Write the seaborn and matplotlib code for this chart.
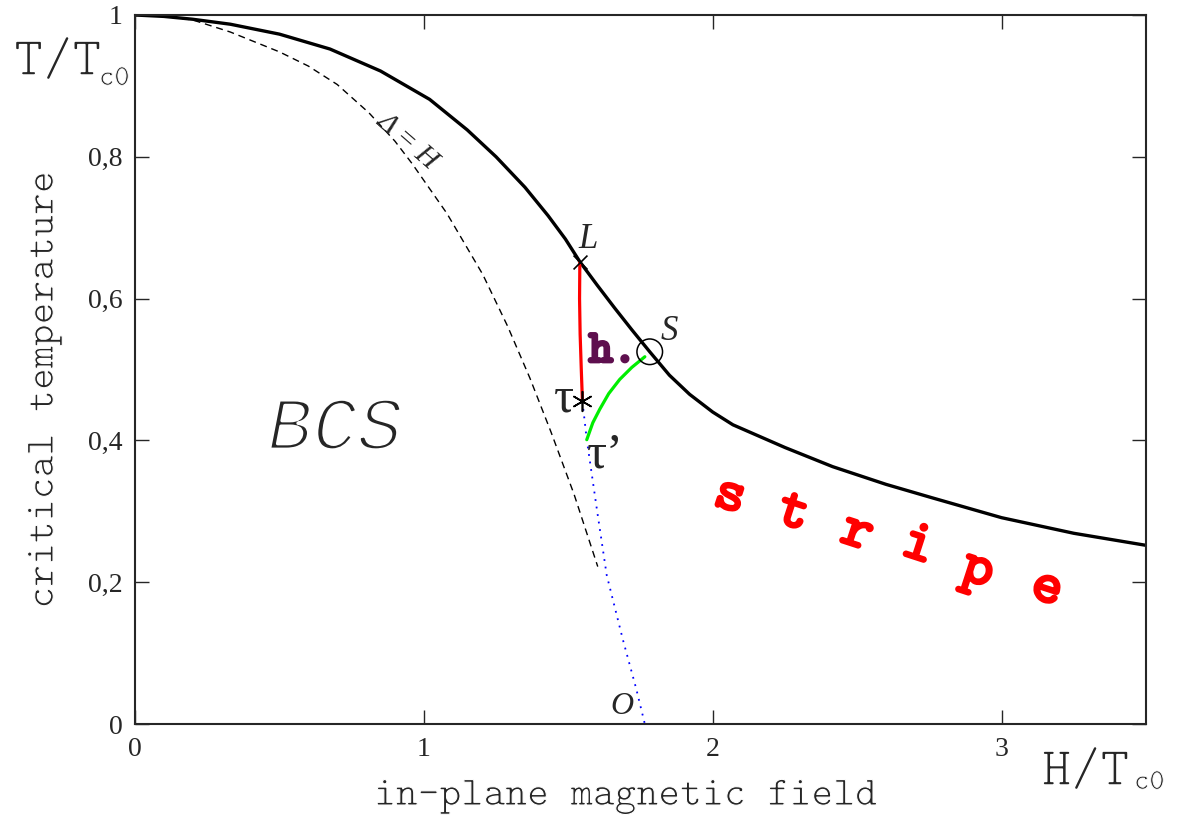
import matplotlib
matplotlib.use("Agg")
import matplotlib.pyplot as plt
import matplotlib.patheffects as pe
import seaborn as sns

# --- data -------------------------------------------------------------
# critical temperature line T_c(H)
crit_H = [0.0, 0.1, 0.2, 0.33, 0.5, 0.675, 0.85, 1.02, 1.15, 1.25, 1.35, 1.43, 1.49,
          1.54, 1.60, 1.66, 1.72, 1.782, 1.85, 1.92, 2.0, 2.07, 2.25, 2.415, 2.6,
          2.76, 3.0, 3.25, 3.5]
crit_T = [1.0, 0.998, 0.994, 0.987, 0.973, 0.952, 0.921, 0.881, 0.838, 0.80, 0.757, 0.717,
          0.684, 0.652, 0.619, 0.587, 0.556, 0.525, 0.492, 0.465, 0.44, 0.422, 0.39, 0.363,
          0.338, 0.319, 0.291, 0.269, 0.252]

# Delta = H line (dashed)
gap_H = [0.0, 0.087, 0.2, 0.33, 0.5, 0.6, 0.7, 0.81, 0.9, 0.96, 1.08, 1.204, 1.29,
         1.367, 1.44, 1.52, 1.602]
gap_T = [1.0, 0.999, 0.993, 0.976, 0.948, 0.928, 0.902, 0.862, 0.822, 0.79, 0.72, 0.634,
         0.561, 0.488, 0.412, 0.324, 0.222]

# first-order line L -> tau (red)
red_H = [1.540, 1.539, 1.541, 1.545, 1.549]
red_T = [0.651, 0.60, 0.55, 0.50, 0.455]

# tau' -> S line (green)
green_H = [1.564, 1.585, 1.609, 1.640, 1.678, 1.720, 1.765]
green_T = [0.401, 0.425, 0.444, 0.466, 0.486, 0.503, 0.518]

# tau -> O line (blue dotted)
blue_H = [1.549, 1.564, 1.60, 1.633, 1.689, 1.735, 1.765]
blue_T = [0.455, 0.401, 0.30, 0.21, 0.119, 0.05, 0.0]

# special points
pt_L = (1.540, 0.651)
pt_S = (1.782, 0.525)
pt_tau = (1.549, 0.455)

x_ticks = [0, 1, 2, 3]
x_ticklabels = ["0", "1", "2", "3"]
y_ticks = [0, 0.2, 0.4, 0.6, 0.8, 1.0]
y_ticklabels = ["0", "0,2", "0,4", "0,6", "0,8", "1"]

stripe_letters = ["s", "t", "r", "i", "p", "e"]
stripe_H = [2.059, 2.277, 2.498, 2.709, 2.917, 3.156]
stripe_T = [0.319, 0.295, 0.267, 0.249, 0.215, 0.189]

# --- style ------------------------------------------------------------
sns.set_theme(style="ticks")
MONO = ["cmtt10", "DejaVu Sans Mono"]
MONO_IT = ["Liberation Mono", "DejaVu Sans Mono"]
SERIF = ["Liberation Serif", "DejaVu Serif"]
plt.rcParams["font.family"] = SERIF
plt.rcParams["axes.linewidth"] = 1.5
plt.rcParams["axes.unicode_minus"] = False


def thin(width):
    """Erode glyph outlines with a white stroke to get a lighter face."""
    return [pe.Stroke(linewidth=width, foreground="white")]


fig = plt.figure(figsize=(11.79, 8.18), dpi=100)
ax = fig.add_axes([135 / 1179, 1 - 724 / 818, (1146 - 135) / 1179, (724 - 15) / 818])

line_kw = dict(ax=ax, sort=False, estimator=None)
sns.lineplot(x=crit_H, y=crit_T, color="black", lw=2.4, **line_kw)
sns.lineplot(x=gap_H, y=gap_T, color="black", lw=1.0, linestyle=(0, (5, 3.5)), **line_kw)
sns.lineplot(x=blue_H, y=blue_T, color="blue", lw=1.3, linestyle=(0, (1, 3.2)), **line_kw)
sns.lineplot(x=red_H, y=red_T, color="red", lw=2.3, **line_kw)
sns.lineplot(x=green_H, y=green_T, color="#00ee00", lw=2.3, **line_kw)

sns.scatterplot(x=[pt_L[0]], y=[pt_L[1]], ax=ax, marker="x", s=100, color="black",
                linewidth=1.2, zorder=5)
sns.scatterplot(x=[pt_tau[0]], y=[pt_tau[1]], ax=ax, marker=(6, 2, 0), s=200,
                color="black", linewidth=1.2, zorder=5)
ax.scatter([pt_S[0]], [pt_S[1]], s=340, facecolors="none", edgecolors="black",
           linewidths=1.1, zorder=5)

ax.set_xlim(0, 3.5)
ax.set_ylim(0, 1)
ax.set_xticks(x_ticks)
ax.set_xticklabels(x_ticklabels)
ax.set_yticks(y_ticks)
ax.set_yticklabels(y_ticklabels)
ax.tick_params(direction="in", length=10, width=1.0, top=True, right=True,
               labelsize=20, pad=9)
for lab in ax.get_xticklabels() + ax.get_yticklabels():
    lab.set_fontfamily(SERIF)
for sp in ax.spines.values():
    sp.set_visible(True)
    sp.set_linewidth(1.5)

ax.set_xlabel("in-plane magnetic field", family=MONO, fontsize=30, va="center",
              path_effects=thin(0.8))
ax.set_ylabel("critical temperature", family=MONO, fontsize=30, va="center",
              path_effects=thin(0.8))
ax.xaxis.set_label_coords(0.485, -0.103)
ax.yaxis.set_label_coords(-0.089, 0.471)

# axis quantity names
fig.text(14 / 1179, 1 - 75 / 818, "T/T", family=MONO, fontsize=40, ha="left",
         va="baseline", path_effects=thin(1.1))
fig.text(99 / 1179, 1 - 85 / 818, "c0", family=MONO, fontsize=21, ha="left",
         va="baseline", path_effects=thin(0.6))
fig.text(1042 / 1179, 1 - 785 / 818, "H/T", family=MONO, fontsize=40, ha="left",
         va="baseline", path_effects=thin(1.1))
fig.text(1134 / 1179, 1 - 789 / 818, "c0", family=MONO, fontsize=21, ha="left",
         va="baseline", path_effects=thin(0.6))

# region and point labels
ax.text(0.692, 0.415, "BCS", family=MONO_IT, style="italic", fontsize=54,
        ha="center", va="center", path_effects=thin(2.4))
ax.text(0.945, 0.822, "Δ = H", family=SERIF, style="italic", fontsize=21,
        rotation=-41, ha="center", va="center", rotation_mode="anchor")
ax.text(1.568, 0.684, "L", family=SERIF, style="italic", fontsize=25, ha="center", va="center")
ax.text(1.850, 0.553, "S", family=SERIF, style="italic", fontsize=25, ha="center", va="center")
ax.text(1.685, 0.025, "O", family=SERIF, style="italic", fontsize=23, ha="center", va="center")
ax.text(1.484, 0.458, "τ", family=SERIF, fontsize=36, ha="center", va="center")
ax.text(1.628, 0.379, "τ’", family=SERIF, fontsize=36, ha="center", va="center")
ax.text(1.571, 0.511, "h.", family=MONO, fontsize=33, color="#5e0f4e",
        ha="left", va="baseline",
        path_effects=[pe.withStroke(linewidth=2.4, foreground="#5e0f4e")])

for ch, hx, ty in zip(stripe_letters, stripe_H, stripe_T):
    ax.text(hx, ty, ch, family=MONO, fontsize=42, color="red",
            rotation=-18, ha="center", va="center", rotation_mode="anchor",
            path_effects=[pe.withStroke(linewidth=2.0, foreground="red")])

fig.savefig("out.png", dpi=100)
